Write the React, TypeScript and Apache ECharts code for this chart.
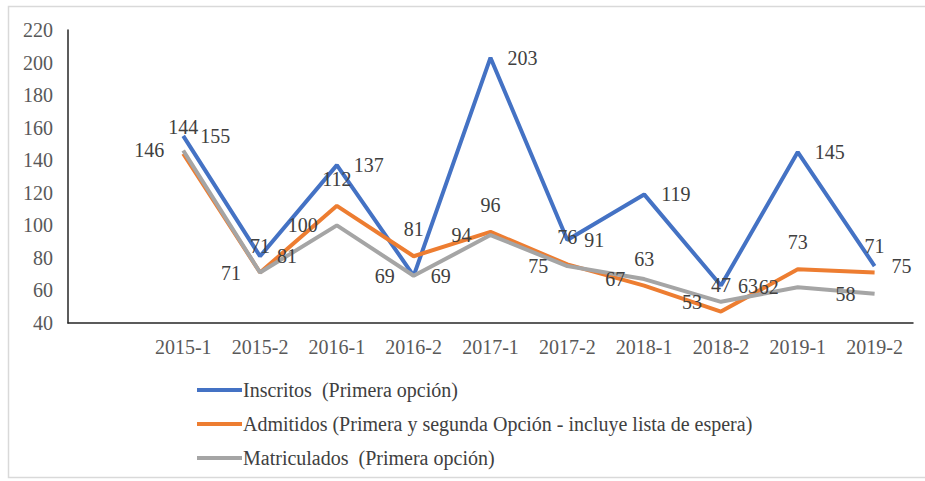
import React, { useEffect, useRef } from "react";
import * as echarts from "echarts";

const categories = ["2015-1", "2015-2", "2016-1", "2016-2", "2017-1", "2017-2", "2018-1", "2018-2", "2019-1", "2019-2"];
const inscritos = [155, 81, 137, 69, 203, 91, 119, 63, 145, 75];
const admitidos = [144, 71, 112, 81, 96, 76, 63, 47, 73, 71];
const matriculados = [146, 71, 100, 69, 94, 75, 67, 53, 62, 58];
const seriesNames = [
  "Inscritos  (Primera opción)",
  "Admitidos (Primera y segunda Opción - incluye lista de espera)",
  "Matriculados  (Primera opción)",
];
const colors = ["#4472C4", "#ED7D31", "#A5A5A5"];

const FONT = "'Liberation Serif', 'Times New Roman', serif";

export default function App() {
  const ref = useRef<HTMLDivElement>(null);
  useEffect(() => {
    if (!ref.current) return;
    const chart = echarts.init(ref.current, undefined, { renderer: "svg" });
    const xData = ["", ...categories];
    const pad = (a: number[]) => [null, ...a];
    const labelBase = { show: true, color: "#404040", fontSize: 20, fontFamily: FONT };
    const common = { type: "line", showSymbol: true, symbol: "circle", symbolSize: 0 };
    chart.setOption({
      animation: false,
      backgroundColor: "#ffffff",
      color: colors,
      graphic: [
        {
          type: "rect",
          shape: { x: 8.5, y: 6.5, width: 940, height: 471 },
          style: { fill: "none", stroke: "#d9d9d9", lineWidth: 1.5 },
          silent: true,
        },
      ],
      grid: { left: 68, right: 12, top: 30, bottom: 158, containLabel: false },
      legend: {
        orient: "vertical",
        left: 197,
        top: 379,
        padding: 0,
        itemWidth: 45,
        itemHeight: 4,
        itemGap: 12,
        icon: "rect",
        textStyle: { color: "#404040", fontSize: 20, fontFamily: FONT, lineHeight: 22, padding: [0, 0, 0, -4] },
        data: seriesNames,
      },
      xAxis: {
        type: "category",
        data: xData,
        boundaryGap: true,
        axisLine: { lineStyle: { color: "#262626", width: 1.5 } },
        axisTick: { show: false },
        axisLabel: { color: "#595959", fontSize: 20, fontFamily: FONT, margin: 14, interval: 0 },
      },
      yAxis: {
        type: "value",
        min: 40,
        max: 220,
        interval: 20,
        axisLine: { show: true, lineStyle: { color: "#262626", width: 1.5 } },
        axisTick: { show: false },
        splitLine: { show: false },
        axisLabel: { color: "#595959", fontSize: 20, fontFamily: FONT, margin: 15 },
      },
      series: [
        {
          ...common,
          name: seriesNames[0],
          data: pad(inscritos),
          lineStyle: { width: 4, color: colors[0] },
          itemStyle: { color: colors[0] },
          label: { ...labelBase, position: "right", distance: 17 },
        },
        {
          ...common,
          name: seriesNames[1],
          data: pad(admitidos),
          lineStyle: { width: 4, color: colors[1] },
          itemStyle: { color: colors[1] },
          label: { ...labelBase, position: "top", distance: 17 },
        },
        {
          ...common,
          name: seriesNames[2],
          data: pad(matriculados),
          lineStyle: { width: 4, color: colors[2] },
          itemStyle: { color: colors[2] },
          label: { ...labelBase, position: "left", distance: 19 },
        },
      ],
    });
    return () => chart.dispose();
  }, []);
  return <div ref={ref} style={{ position: "fixed", left: 0, top: 0, width: 925, height: 481 }} />;
}
